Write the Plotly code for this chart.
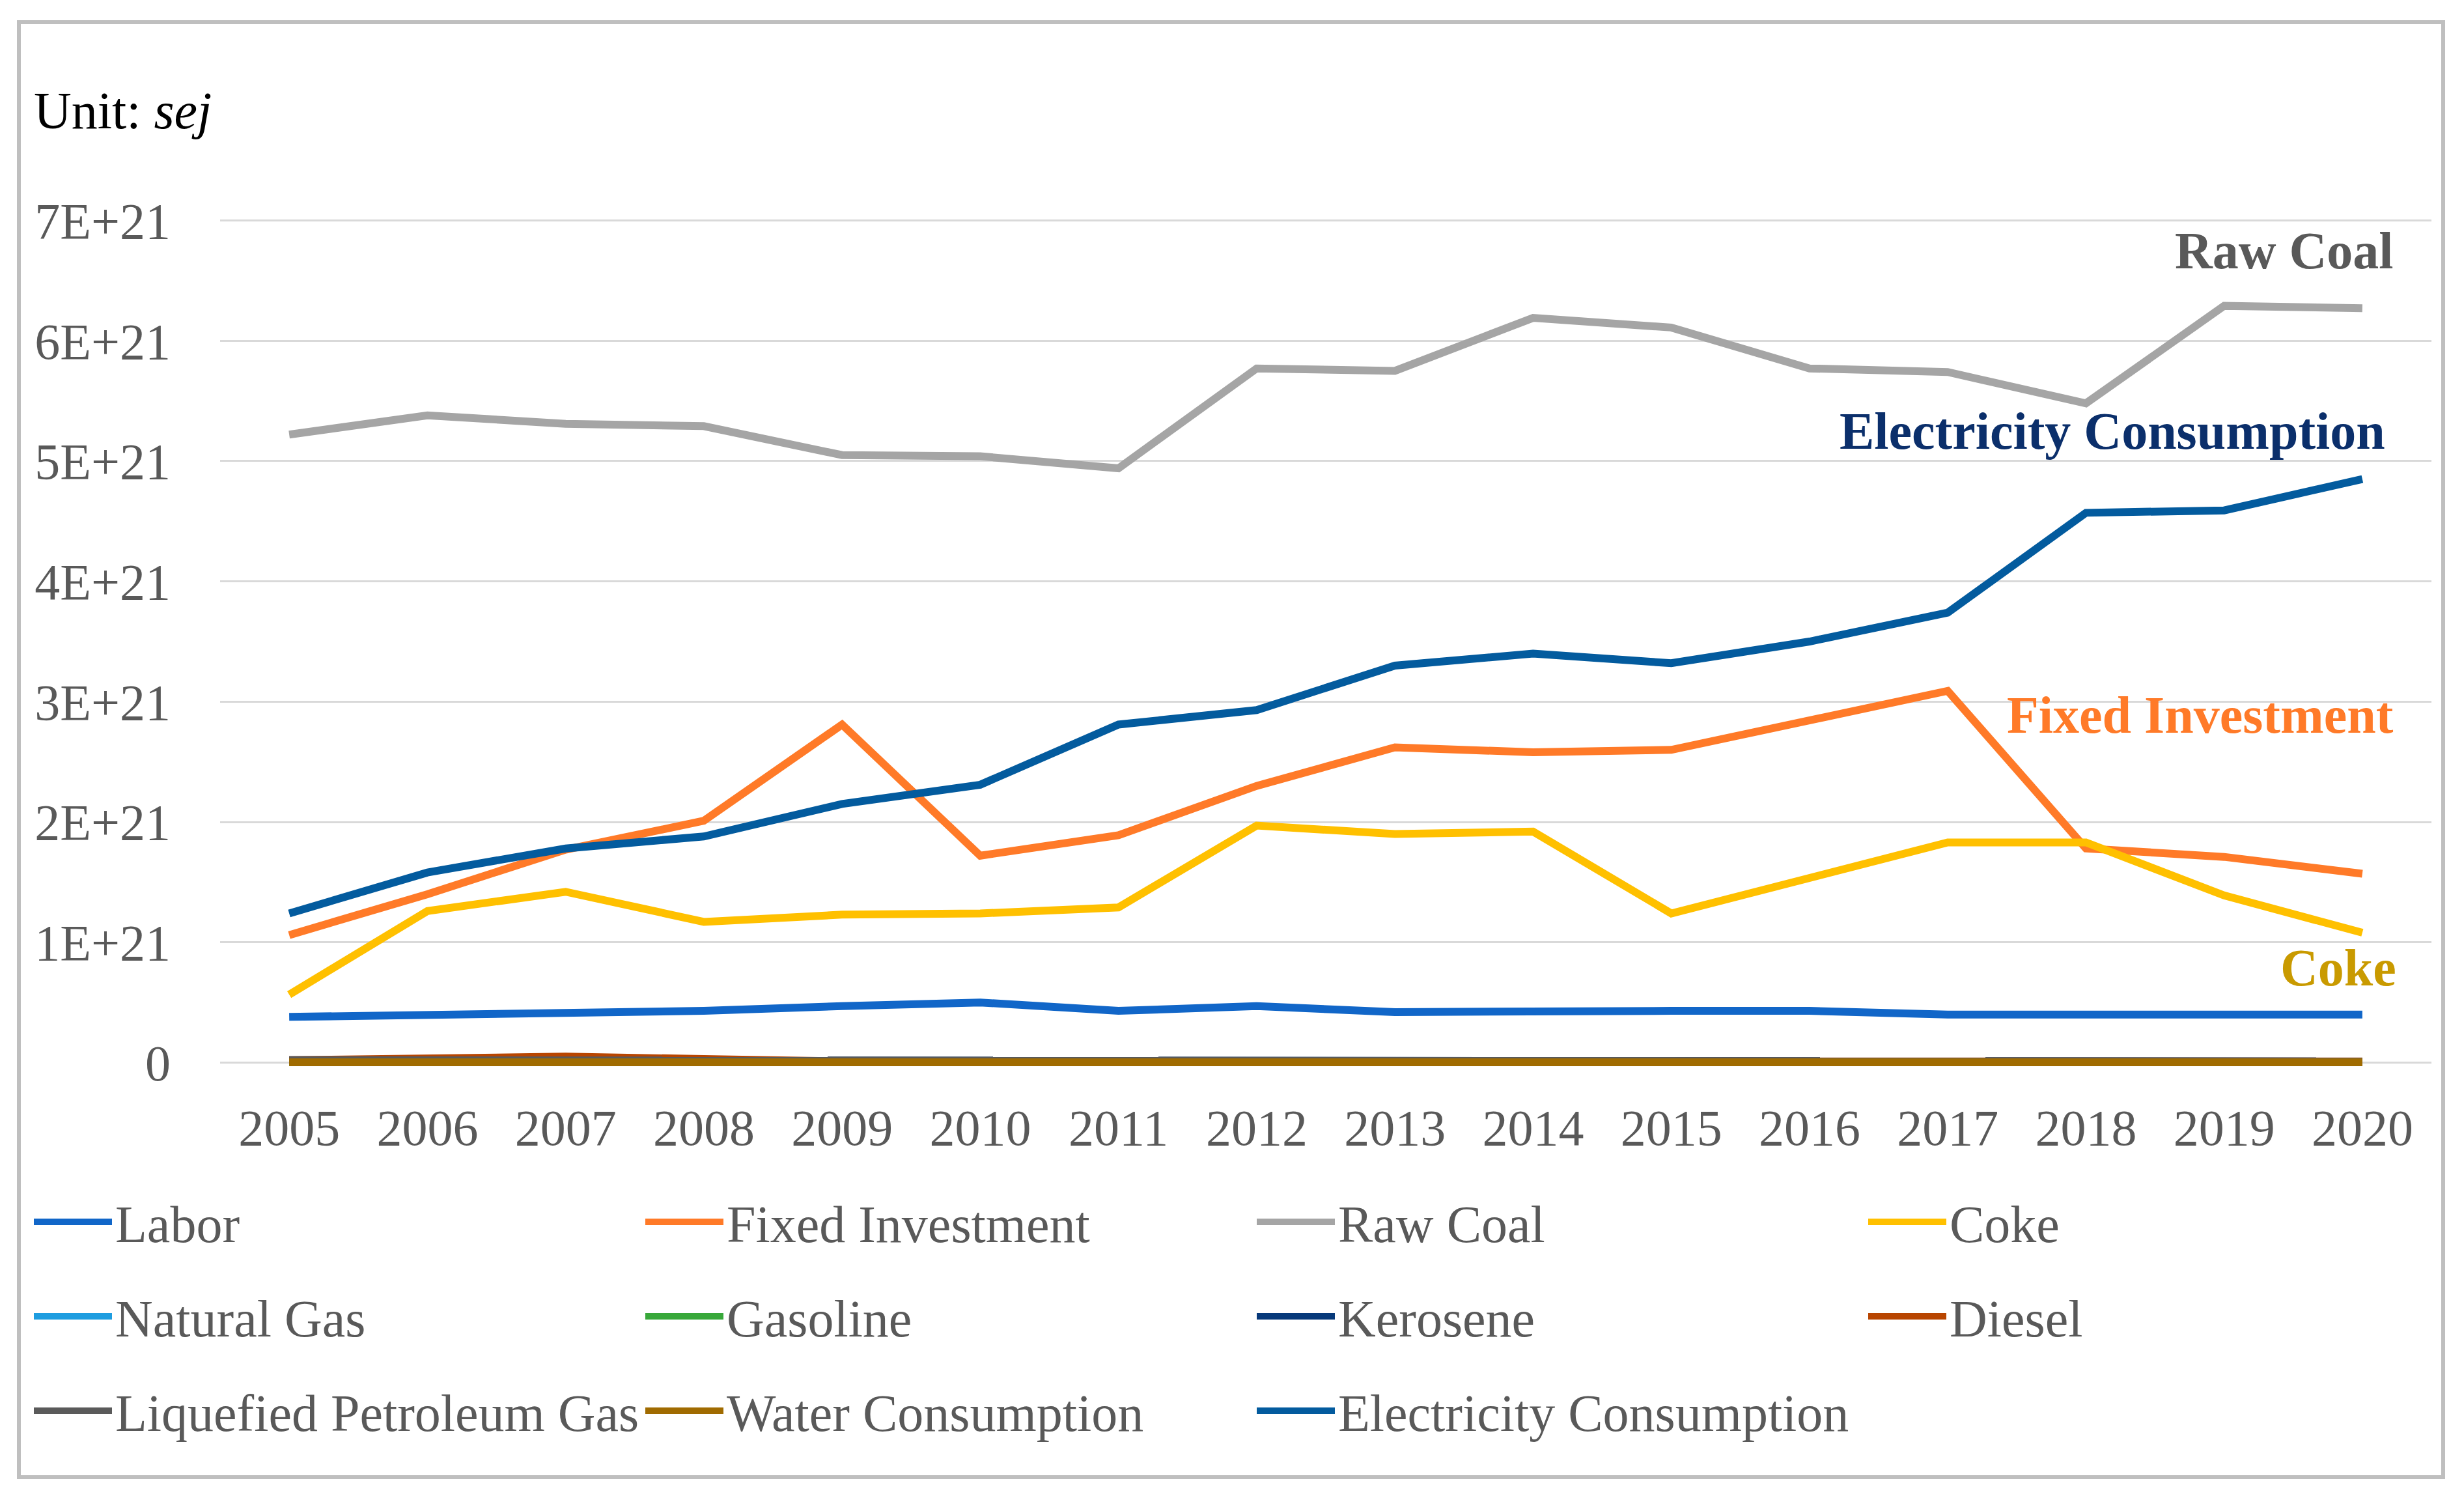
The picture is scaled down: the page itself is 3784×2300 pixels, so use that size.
import plotly.graph_objects as go

# ---------------- data ----------------
years = [str(y) for y in range(2005, 2021)]

labor = [0.38, 0.40, 0.42, 0.43, 0.47, 0.50, 0.43, 0.47, 0.42, 0.43, 0.43, 0.43, 0.40, 0.40, 0.40, 0.40]
fixed_investment = [1.06, 1.40, 1.77, 2.01, 2.81, 1.72, 1.89, 2.30, 2.62, 2.58, 2.60, 2.84, 3.09, 1.78, 1.71, 1.57]
raw_coal = [5.22, 5.38, 5.31, 5.29, 5.05, 5.04, 4.94, 5.77, 5.75, 6.19, 6.11, 5.77, 5.74, 5.48, 6.29, 6.27]
coke = [0.565, 1.26, 1.42, 1.17, 1.23, 1.24, 1.29, 1.97, 1.90, 1.92, 1.24, 1.54, 1.83, 1.83, 1.39, 1.08]
natural_gas = [0.005] * 16
gasoline = [0.004] * 16
kerosene = [0.02, 0.02, 0.01, 0.01, 0.01, 0.02, 0.01, 0.01, 0.01, 0.01, 0.01, 0.01, 0.01, 0.01, 0.01, 0.01]
diesel = [0.02, 0.03, 0.05, 0.03, 0.01, 0.01, 0.01, 0.01, 0.01, 0.01, 0.01, 0.01, 0.01, 0.01, 0.01, 0.01]
lpg = [0.02, 0.02, 0.01, 0.01, 0.01, 0.02, 0.01, 0.01, 0.01, 0.01, 0.01, 0.01, 0.01, 0.01, 0.01, 0.01]
water = [0.003] * 16
electricity = [1.24, 1.58, 1.78, 1.88, 2.15, 2.31, 2.81, 2.93, 3.30, 3.40, 3.32, 3.50, 3.74, 4.57, 4.59, 4.85]

series_names = ["Labor", "Fixed Investment", "Raw Coal", "Coke",
                "Natural Gas", "Gasoline", "Kerosene", "Diesel",
                "Liquefied Petroleum Gas", "Water Consumption", "Electricity Consumption"]
series_values = [labor, fixed_investment, raw_coal, coke,
                 natural_gas, gasoline, kerosene, diesel,
                 lpg, water, electricity]
UNIT = 1e21

y_tick_values = [0, 1, 2, 3, 4, 5, 6, 7]
y_tick_labels = ["0", "1E+21", "2E+21", "3E+21", "4E+21", "5E+21", "6E+21", "7E+21"]

# labels drawn at the right end of the chart: (text, y in E+21 units, colour)
end_labels = [("Raw Coal", 6.75, "#595959"),
              ("Electricity Consumption", 5.25, "#0B2F6B"),
              ("Fixed Investment", 2.89, "#FF7A28"),
              ("Coke", 0.79, "#C99A00")]
end_label_right = [3678, 3665, 3678, 3682]

# ---------------- style ----------------
colors = ["#1166C8", "#FF7A28", "#A5A5A5", "#FFC000",
          "#1E9DE0", "#38A83A", "#07397A", "#B84500",
          "#5A5A5A", "#A06B00", "#035B9E"]
legend_ids = ["legend"] * 4 + ["legend2"] * 4 + ["legend3"] * 3

W, H = 3784, 2300
OFF = 8                      # page offset of the figure inside the browser
PLOT_L, PLOT_R = 338, 3734   # target plot area (picture pixels)
PLOT_T, PLOT_B = 320, 1650
ML = PLOT_L - OFF
MT = PLOT_T - OFF
MB = H - (PLOT_B - OFF)
MR = 10
PW, PH = W - ML - MR, H - MT - MB
X_DOMAIN_END = (PLOT_R - PLOT_L) / PW
FONT = "Liberation Serif"
TXT = "#595959"


def paper_x(px):
    return (px - OFF - ML) / PW


def paper_y(py):
    return (H - MB - (py - OFF)) / PH


fig = go.Figure()
for name, vals, col, lg in zip(series_names, series_values, colors, legend_ids):
    fig.add_trace(go.Scatter(
        x=years, y=[v * UNIT for v in vals], name=name, mode="lines",
        line=dict(color=col, width=12), legend=lg))

legend_common = dict(orientation="h", xref="paper", yref="paper",
                     x=paper_x(47), xanchor="left", yanchor="middle",
                     entrywidth=804, entrywidthmode="pixels", itemwidth=120,
                     bgcolor="rgba(0,0,0,0)", borderwidth=0, traceorder="normal",
                     font=dict(family=FONT, size=80, color=TXT))

fig.update_layout(
    width=W, height=H,
    margin=dict(l=ML, r=MR, t=MT, b=MB, autoexpand=False),
    paper_bgcolor="white", plot_bgcolor="white",
    font=dict(family=FONT, size=80, color=TXT),
    showlegend=True,
    legend=dict(legend_common, y=paper_y(1876)),
    legend2=dict(legend_common, y=paper_y(2021)),
    legend3=dict(legend_common, y=paper_y(2166)),
    xaxis=dict(type="category", domain=[0, X_DOMAIN_END], range=[-0.5, 15.5],
               showgrid=False, zeroline=False, showline=False,
               ticks="", ticklabelstandoff=29,
               tickfont=dict(family=FONT, size=78, color=TXT)),
    yaxis=dict(range=[-0.1 * UNIT, 7.1 * UNIT],
               tickvals=[v * UNIT for v in y_tick_values], ticktext=y_tick_labels,
               showgrid=True, gridcolor="#D9D9D9", gridwidth=3,
               zeroline=False, showline=False, ticks="", ticklabelstandoff=75,
               tickfont=dict(family=FONT, size=78, color=TXT)),
)

# outer frame
fig.add_shape(type="rect", xref="paper", yref="paper",
              x0=paper_x(29), x1=paper_x(3752), y0=paper_y(2268), y1=paper_y(34),
              line=dict(color="#BFBFBF", width=6), layer="below")

# unit label
fig.add_annotation(xref="paper", yref="paper", x=paper_x(50), y=paper_y(170),
                   xanchor="left", yanchor="middle", showarrow=False,
                   text="Unit: <i>sej</i>",
                   font=dict(family=FONT, size=80, color="black"))

for (text, yv, col), xr in zip(end_labels, end_label_right):
    fig.add_annotation(xref="paper", yref="y", x=paper_x(xr), y=yv * UNIT,
                       xanchor="right", yanchor="middle", showarrow=False,
                       text="<b>" + text + "</b>",
                       font=dict(family=FONT, size=80, color=col))

fig.write_html("out.html")
